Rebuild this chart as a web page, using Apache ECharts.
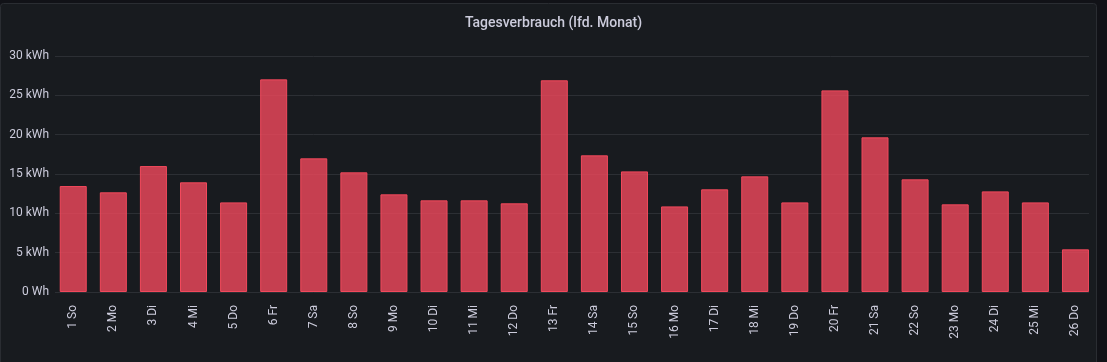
<!DOCTYPE html>
<html>
<head>
<meta charset="utf-8">
<script src="https://cdn.jsdelivr.net/npm/echarts@6/dist/echarts.min.js"></script>
<style>
  html, body { margin: 0; padding: 0; background: #111217; }
  #chart { width: 1107px; height: 362px; }
</style>
</head>
<body>
<div id="chart"></div>
<script>
const titleText = 'Tagesverbrauch (lfd. Monat)';
const categories = ['1 So','2 Mo','3 Di','4 Mi','5 Do','6 Fr','7 Sa','8 So','9 Mo','10 Di','11 Mi','12 Do','13 Fr','14 Sa','15 So','16 Mo','17 Di','18 Mi','19 Do','20 Fr','21 Sa','22 So','23 Mo','24 Di','25 Mi','26 Do'];
const values = [13.47, 12.67, 16.01, 13.94, 11.39, 27.03, 16.99, 15.21, 12.41, 11.65, 11.65, 11.27, 26.91, 17.37, 15.33, 10.88, 13.05, 14.70, 11.39, 25.63, 19.66, 14.32, 11.14, 12.79, 11.39, 5.42];
const yMin = 0, yMax = 30, yStep = 5;

const chart = echarts.init(document.getElementById('chart'), null, { renderer: 'canvas' });
const font = 'Roboto, "Noto Sans", sans-serif';
const textColor = '#ccccdc';
const gridColor = '#2c2f34';

chart.setOption({
  backgroundColor: '#111217',
  animation: false,
  graphic: [{
    type: 'rect',
    z: -10,
    silent: true,
    shape: { x: 0.5, y: 3.5, width: 1096, height: 370, r: 3 },
    style: { fill: '#181b1f', stroke: '#2a2d32', lineWidth: 1 }
  }],
  title: {
    text: titleText,
    left: 548.5,
    textAlign: 'center',
    top: 11,
    textStyle: { color: textColor, fontFamily: font, fontSize: 14, fontWeight: 500 }
  },
  grid: [
    { left: 55, right: 18, top: 56, bottom: 70 },
    { left: 53.2, right: 11.5, top: 56, bottom: 70 }
  ],
  xAxis: [
    { type: 'category', gridIndex: 0, data: categories, show: false },
    {
      type: 'category', gridIndex: 1, data: categories,
      axisLine: { show: false }, axisTick: { show: false },
      axisLabel: { color: textColor, fontFamily: font, fontSize: 12, rotate: 90, margin: 13, interval: 0 }
    }
  ],
  yAxis: [
    {
      type: 'value', gridIndex: 0, min: yMin, max: yMax, interval: yStep,
      axisLine: { show: false }, axisTick: { show: false },
      splitLine: { lineStyle: { color: gridColor, width: 1 } },
      axisLabel: {
        color: textColor, fontFamily: font, fontSize: 12, margin: 6,
        formatter: v => v === 0 ? '0 Wh' : v + ' kWh'
      }
    },
    {
      type: 'value', gridIndex: 1, min: yMin, max: yMax, interval: yStep,
      show: false, splitLine: { show: false }
    }
  ],
  series: [{
    type: 'bar',
    xAxisIndex: 1, yAxisIndex: 1,
    data: values,
    barWidth: 27,
    itemStyle: { color: 'rgba(242,73,92,0.8)', borderColor: '#F2495C', borderWidth: 1 }
  }]
});
</script>
</body>
</html>
